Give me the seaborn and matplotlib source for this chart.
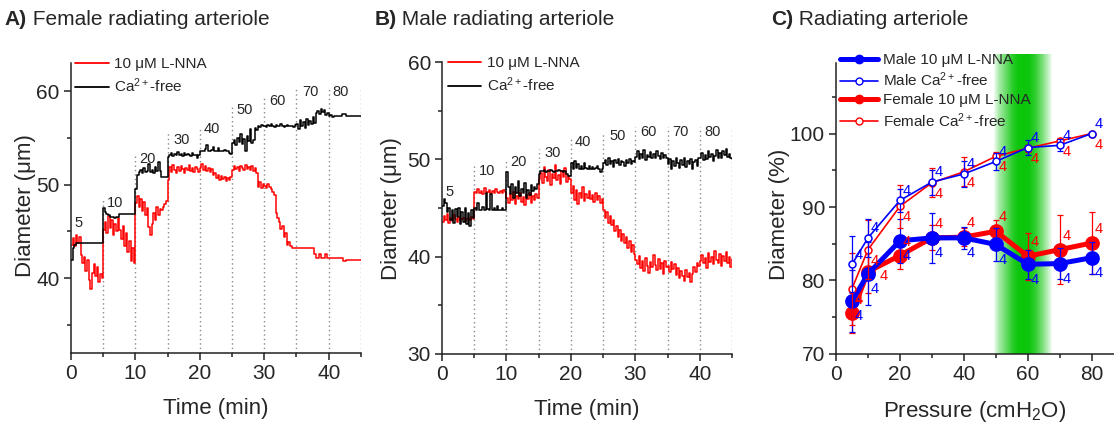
import numpy as np
import matplotlib
matplotlib.use('Agg')
import matplotlib.pyplot as plt
import seaborn as sns
from matplotlib.lines import Line2D
from matplotlib.ticker import MultipleLocator

# ---- panels A/B: diameter traces (um), one value every 0.25 min, 0-45 min ----
step_min = 0.25

female_ca_free = (
    [42.0, 43.2, 43.6, 43.8, 43.8, 43.8, 43.8, 43.8, 43.8, 43.8, 43.8, 43.8, 43.8, 43.8, 43.8, 43.8, 43.8, 43.8, 43.8, 43.8]
    + [47.5, 47.1, 46.9, 46.8, 46.5, 46.5, 46.5, 46.4, 46.5, 46.5, 46.9, 46.9, 46.9, 46.9, 46.9, 46.9, 46.9, 46.9, 46.9, 46.9]
    + [49.5, 51.0, 51.4, 51.6, 51.3, 51.8, 51.4, 51.5, 52.2, 51.4, 51.6, 51.3, 51.9, 51.5, 52.4, 51.5, 50.8, 50.8, 50.8, 50.8]
    + [53.0, 53.2, 53.4, 53.1, 53.3, 53.2, 53.5, 53.2, 53.3, 53.1, 53.4, 53.2, 53.3, 53.2, 53.1, 53.4, 53.2, 53.2, 52.9, 53.2]
    + [53.6, 53.6, 53.6, 53.8, 54.2, 53.6, 53.6, 53.7, 54.0, 53.6, 53.6, 53.9, 53.6, 53.6, 53.6, 53.7, 53.6, 53.6, 53.4, 53.3]
    + [54.5, 54.8, 54.2, 55.0, 54.6, 55.4, 54.4, 54.9, 53.6, 55.2, 54.7, 55.9, 54.5, 54.8, 56.1, 55.8, 56.3, 56.2, 56.4, 56.3]
    + [56.3, 56.2, 56.4, 56.3, 56.5, 56.3, 56.2, 56.4, 56.3, 56.3, 56.5, 56.3, 56.2, 56.3, 56.4, 56.3, 56.3, 56.3, 56.2, 56.4]
    + [56.5, 56.0, 56.9, 56.3, 56.7, 56.1, 57.0, 56.4, 56.8, 56.5, 57.2, 56.6, 57.7, 57.9, 57.6, 58.1, 57.8, 58.0, 57.5, 57.7]
    + [57.3, 57.4, 57.2, 57.3, 57.3, 57.3, 57.3, 57.3, 57.6, 57.6, 57.6, 57.3, 57.3, 57.3, 57.3, 57.3, 57.3, 57.3, 57.3, 57.3, 57.3]
)
female_lnna = (
    [43.6, 44.3, 43.4, 44.6, 43.8, 44.4, 42.5, 41.6, 42.3, 40.8, 41.9, 39.8, 38.9, 40.6, 41.5, 40.2, 41.2, 39.6, 40.5, 40.0]
    + [45.2, 46.0, 44.8, 46.6, 45.4, 46.2, 44.6, 45.8, 45.0, 46.4, 45.2, 44.2, 45.6, 43.4, 44.8, 42.8, 44.0, 41.8, 43.2, 41.6]
    + [48.0, 48.8, 47.6, 48.5, 47.2, 48.1, 46.8, 47.5, 45.5, 44.6, 45.8, 47.0, 46.2, 47.6, 46.8, 47.4, 47.3, 47.6, 47.9, 48.3]
    + [50.5, 51.9, 51.4, 52.1, 51.6, 51.2, 51.9, 51.5, 52.0, 51.7, 51.3, 51.8, 51.6, 52.1, 51.5, 51.8, 51.4, 51.9, 51.7, 51.4]
    + [51.8, 52.2, 51.6, 52.0, 51.5, 51.8, 51.4, 51.7, 51.0, 51.2, 50.7, 51.0, 50.5, 50.9, 50.6, 50.8, 50.4, 50.7, 50.5, 50.8]
    + [51.6, 52.0, 51.7, 51.9, 51.5, 52.0, 51.8, 51.6, 52.1, 51.7, 51.9, 51.6, 52.0, 51.5, 51.8, 51.2, 49.8, 50.3, 49.6, 50.1]
    + [49.9, 49.6, 50.1, 49.7, 49.5, 49.2, 48.9, 47.0, 46.4, 46.0, 45.3, 45.6, 44.4, 44.8, 43.6, 43.9, 43.4, 43.2, 43.2, 43.2]
    + [43.2, 43.2, 43.2, 43.2, 43.2, 43.2, 43.2, 43.2, 43.2, 43.2, 43.2, 42.6, 42.2, 42.2, 42.6, 42.2, 42.2, 42.2, 42.6, 42.2]
    + [42.2, 42.2, 42.2, 42.2, 42.2, 42.2, 42.2, 42.2, 42.2, 41.8, 41.8, 42.0, 42.0, 42.0, 42.0, 42.0, 42.0, 42.0, 42.0, 42.0, 42.0]
)
male_ca_free = (
    [45.2, 45.9, 45.5, 44.6, 45.0, 43.8, 44.8, 43.5, 44.9, 44.1, 45.0, 43.4, 44.6, 43.6, 45.0, 43.4, 44.5, 43.2, 44.8, 44.0]
    + [45.0, 44.8, 45.5, 44.8, 44.8, 45.1, 44.8, 46.6, 44.9, 44.8, 46.4, 44.8, 45.0, 44.8, 45.2, 44.8, 44.8, 45.0, 44.8, 44.8]
    + [48.7, 47.2, 46.4, 47.5, 46.0, 47.2, 46.5, 47.8, 46.2, 47.0, 46.6, 47.6, 46.0, 46.9, 46.3, 47.4, 46.8, 47.2, 47.0, 47.5]
    + [48.5, 48.8, 48.8, 48.9, 48.7, 48.8, 48.8, 48.9, 48.8, 48.7, 48.8, 48.8, 48.9, 48.8, 48.8, 48.7, 48.8, 48.5, 48.3, 48.3]
    + [49.6, 49.0, 49.8, 49.1, 49.5, 49.0, 49.3, 49.0, 49.6, 49.1, 49.0, 49.3, 49.0, 49.2, 49.0, 49.1, 49.3, 49.0, 48.7, 49.0]
    + [49.6, 49.9, 49.4, 50.1, 49.5, 49.8, 49.2, 49.9, 49.6, 50.0, 49.4, 49.8, 49.7, 49.3, 49.9, 49.6, 50.0, 49.5, 49.8, 49.7]
    + [50.3, 50.9, 50.0, 50.6, 50.2, 51.0, 49.9, 50.5, 50.3, 50.8, 50.1, 50.6, 50.2, 50.9, 50.4, 50.0, 50.7, 50.2, 50.5, 50.1]
    + [49.5, 50.0, 49.0, 49.8, 49.3, 50.2, 49.6, 49.1, 49.9, 49.4, 50.1, 49.2, 49.8, 49.5, 50.0, 49.0, 49.7, 49.9, 49.3, 50.1]
    + [50.2, 50.7, 49.9, 50.5, 50.0, 50.9, 50.3, 50.6, 49.8, 50.4, 51.0, 50.2, 50.7, 50.1, 50.9, 50.5, 51.1, 50.3, 50.6, 50.2, 50.0]
)
male_lnna = (
    [43.6, 44.2, 43.8, 44.4, 43.5, 44.0, 43.7, 44.3, 43.9, 43.6, 44.1, 43.8, 43.9, 44.0, 43.7, 43.9, 44.0, 43.8, 44.1, 43.9]
    + [46.7, 46.5, 47.0, 46.6, 46.8, 46.4, 47.1, 46.6, 46.7, 46.9, 46.5, 46.8, 46.6, 47.0, 46.7, 46.5, 46.8, 46.6, 46.9, 46.7]
    + [46.0, 45.5, 46.4, 45.8, 46.7, 45.4, 46.2, 45.9, 46.5, 45.6, 46.1, 45.3, 46.3, 45.9, 46.6, 45.5, 46.2, 45.8, 46.4, 46.0]
    + [48.0, 48.6, 47.6, 49.2, 48.2, 47.8, 48.9, 47.4, 48.5, 48.1, 49.4, 47.9, 48.4, 47.5, 48.8, 48.2, 49.1, 47.7, 48.3, 48.0]
    + [46.5, 47.3, 45.8, 46.9, 45.4, 46.6, 46.0, 47.2, 45.7, 46.4, 46.0, 46.8, 45.9, 46.3, 45.6, 46.5, 45.8, 46.2, 45.5, 45.9]
    + [44.8, 44.0, 44.6, 43.5, 44.2, 43.3, 43.8, 42.6, 43.2, 42.0, 42.7, 41.6, 42.3, 41.4, 42.0, 40.9, 41.6, 40.5, 41.2, 40.3]
    + [39.7, 39.2, 40.1, 38.8, 39.6, 38.5, 39.9, 39.0, 38.3, 39.5, 38.9, 40.2, 39.1, 38.6, 39.8, 38.7, 39.4, 38.2, 39.6, 38.9]
    + [39.0, 38.4, 39.5, 38.7, 39.2, 38.1, 38.8, 37.8, 38.5, 38.0, 37.5, 38.6, 37.9, 38.3, 37.4, 38.2, 38.9, 38.4, 39.3, 39.0]
    + [39.6, 40.2, 39.3, 39.9, 38.8, 40.4, 39.5, 40.0, 39.2, 40.6, 39.7, 39.4, 40.3, 39.0, 40.1, 39.6, 40.5, 39.3, 40.0, 38.9, 39.8]
)

# pressure steps (cmH2O) applied every 5 min
pressure_labels = ['5', '10', '20', '30', '40', '50', '60', '70', '80']
step_times = [5, 10, 15, 20, 25, 30, 35, 40, 45]

# ---- panel C: normalised diameter (%) vs pressure, n = 4 ----
pressure = [5, 10, 20, 30, 40, 50, 60, 70, 80]
male_lnna_pct = [77.2, 80.9, 85.4, 85.8, 85.8, 84.9, 82.2, 82.3, 83.1]
male_lnna_err = [4.2, 4.3, 3.0, 3.4, 1.5, 2.3, 2.0, 2.1, 2.2]
male_ca_pct = [82.2, 85.8, 90.9, 93.4, 94.5, 96.2, 98.1, 98.4, 100.0]
male_ca_err = [3.8, 2.6, 1.6, 1.7, 1.8, 1.2, 1.0, 0.8, 0.0]
female_lnna_pct = [75.6, 81.2, 83.4, 85.8, 85.9, 86.7, 83.3, 84.2, 85.1]
female_lnna_err = [2.7, 2.9, 1.8, 1.7, 1.2, 1.5, 3.2, 4.7, 4.2]
female_ca_pct = [78.9, 84.2, 90.1, 93.3, 94.8, 96.9, 98.0, 99.0, 100.0]
female_ca_err = [4.9, 4.0, 2.9, 2.0, 2.0, 0.6, 0.5, 0.4, 0.0]
n_label = '4'

RED = '#ff0000'
BLUE = '#0000ff'

sns.set_style('ticks')
plt.rcParams['font.family'] = ['Liberation Sans', 'DejaVu Sans']
plt.rcParams['mathtext.fontset'] = 'custom'
plt.rcParams['mathtext.rm'] = 'Liberation Sans'
plt.rcParams['mathtext.it'] = 'Liberation Sans:italic'
plt.rcParams['mathtext.bf'] = 'Liberation Sans:bold'

fig = plt.figure(figsize=(11.14, 4.29), dpi=100)
axA = fig.add_axes([0.0637, 0.177, 0.2603, 0.676])
axB = fig.add_axes([0.3968, 0.175, 0.2603, 0.680])
axC = fig.add_axes([0.7505, 0.175, 0.2495, 0.678])


def style_axis(ax):
    for side in ['top', 'right']:
        ax.spines[side].set_visible(False)
    for side in ['left', 'bottom']:
        ax.spines[side].set_linewidth(1.1)
        ax.spines[side].set_color('#222222')
    ax.tick_params(which='major', direction='out', length=5, width=1.1, labelsize=15, pad=3, color='#222222')
    ax.tick_params(which='minor', direction='out', length=3, width=1.1, color='#222222')


def trace_panel(ax, ca, lnna, ylim, label_t, label_y, line_top, leg_anchor):
    t = np.arange(len(lnna)) * step_min
    for st, top in zip(step_times, line_top):
        ax.plot([st, st], [ylim[0], top], ls=(0, (1, 2.2)), color='#888888', lw=1, zorder=1)
    sns.lineplot(x=t, y=lnna, color=RED, lw=1.1, drawstyle='steps-post', ax=ax, zorder=2)
    sns.lineplot(x=np.arange(len(ca)) * step_min, y=ca, color='black', lw=1.1,
                 drawstyle='steps-post', ax=ax, zorder=3)
    for lab, lt, ly in zip(pressure_labels, label_t, label_y):
        ax.text(lt, ly, lab, fontsize=10.5, ha='center', va='center')
    ax.set_xlim(0, 45)
    ax.set_ylim(*ylim)
    ax.xaxis.set_major_locator(MultipleLocator(10))
    ax.xaxis.set_minor_locator(MultipleLocator(5))
    ax.yaxis.set_major_locator(MultipleLocator(10))
    ax.yaxis.set_minor_locator(MultipleLocator(5))
    ax.set_xlabel('Time (min)', fontsize=16)
    ax.set_ylabel('Diameter (\u03bcm)', fontsize=16)
    ax.xaxis.set_label_coords(0.5, -0.155)
    handles = [Line2D([], [], color=RED, lw=1.3), Line2D([], [], color='black', lw=1.3)]
    ax.legend(handles, ['10 \u03bcM L-NNA', 'Ca$^{2+}$-free'], loc='upper left',
              bbox_to_anchor=leg_anchor, frameon=False, fontsize=11, borderpad=0,
              borderaxespad=0, handlelength=2.2, handletextpad=0.35, labelspacing=0.35)
    style_axis(ax)


trace_panel(axA, female_ca_free, female_lnna, (32, 63),
            [1.1, 6.8, 11.8, 17.2, 21.9, 27.0, 32.0, 37.1, 41.8],
            [45.9, 48.0, 52.7, 54.8, 55.9, 58.0, 58.9, 59.9, 59.9],
            [48.6, 53.4, 55.6, 56.2, 58.3, 59.4, 60.2, 60.2, 60.2], (0.014, 1.02))
axA.yaxis.set_label_coords(-0.12, 0.51)

trace_panel(axB, male_ca_free, male_lnna, (30, 60),
            [1.2, 7.0, 11.8, 17.1, 21.9, 27.2, 32.0, 37.0, 42.0],
            [46.7, 48.8, 49.7, 50.7, 51.8, 52.4, 52.8, 52.8, 52.8],
            [49.3, 50.0, 51.1, 52.1, 52.6, 53.3, 53.3, 53.3, 53.3], (0.02, 1.02))
axB.yaxis.set_label_coords(-0.138, 0.5)

# ---- panel C ----
band_x = np.linspace(49.5, 67.6, 300)
band_alpha = np.interp(band_x, [49.5, 51, 53, 55.5, 57, 60.5, 62.5, 65, 67.6],
                       [0.05, 0.35, 0.6, 0.9, 1.0, 1.0, 0.85, 0.5, 0.05])
band = np.zeros((1, band_x.size, 4))
band[..., 0] = 0.05
band[..., 1] = 0.78
band[..., 2] = 0.05
band[..., 3] = band_alpha
axC.imshow(band, extent=[49.5, 67.6, 70, 110.8], aspect='auto', zorder=0,
           interpolation='bilinear', clip_on=False)

series = [
    (female_lnna_pct, female_lnna_err, RED, 3.6, 'o', 9.5, RED, (5, 10)),
    (male_lnna_pct, male_lnna_err, BLUE, 3.6, 'o', 9.5, BLUE, (5, -11)),
    (female_ca_pct, female_ca_err, RED, 1.2, 'o', 5, 'white', (5, -8)),
    (male_ca_pct, male_ca_err, BLUE, 1.2, 'o', 5, 'white', (5, 7)),
]
for k, (vals, err, col, lw, mk, ms, mfc, off) in enumerate(series):
    axC.errorbar(pressure, vals, yerr=err, fmt='none', ecolor=col, elinewidth=0.9,
                 capsize=2.5, capthick=0.9, zorder=2 + k)
    sns.lineplot(x=pressure, y=vals, color=col, lw=lw, marker=mk, markersize=ms,
                 markerfacecolor=mfc, markeredgecolor=col, markeredgewidth=1.1,
                 ax=axC, zorder=2 + k)
    for p, v in zip(pressure, vals):
        o = off
        if vals is female_lnna_pct and p == 10:
            o = (11, -3)   # crowded spot at 10 cmH2O
        axC.annotate(n_label, (p, v), xytext=o, textcoords='offset points',
                     color=col, fontsize=10.5, ha='center', va='center', zorder=8)

axC.set_xlim(0, 87)
axC.set_ylim(70, 109.6)
axC.xaxis.set_major_locator(MultipleLocator(20))
axC.xaxis.set_minor_locator(MultipleLocator(10))
axC.yaxis.set_major_locator(MultipleLocator(10))
axC.yaxis.set_minor_locator(MultipleLocator(5))
axC.set_xlabel('Pressure (cmH$_2$O)', fontsize=16)
axC.set_ylabel('Diameter (%)', fontsize=16)
axC.xaxis.set_label_coords(0.5, -0.155)
axC.yaxis.set_label_coords(-0.165, 0.48)
style_axis(axC)
c_handles = [
    Line2D([], [], color=BLUE, lw=3.6, marker='o', ms=6),
    Line2D([], [], color=BLUE, lw=1.2, marker='o', ms=5, mfc='white'),
    Line2D([], [], color=RED, lw=3.6, marker='o', ms=6),
    Line2D([], [], color=RED, lw=1.2, marker='o', ms=5, mfc='white'),
]
axC.legend(c_handles, ['Male 10 \u03bcM L-NNA', 'Male Ca$^{2+}$-free',
                       'Female 10 \u03bcM L-NNA', 'Female Ca$^{2+}$-free'],
           loc='upper left', bbox_to_anchor=(0.014, 1.035), frameon=False, fontsize=11,
           borderpad=0, borderaxespad=0, handlelength=2.5, handletextpad=0.3,
           labelspacing=0.25)

# ---- panel titles: bold letter followed by plain text ----
for x, letter, rest in [(0.004, 'A)', ' Female radiating arteriole'),
                        (0.336, 'B)', ' Male radiating arteriole'),
                        (0.692, 'C)', ' Radiating arteriole')]:
    t1 = fig.text(x, 0.955, letter, fontsize=15, fontweight='bold', va='center')
    axA.annotate(rest, xy=(1, 0.5), xycoords=t1, va='center', ha='left',
                 fontsize=15, annotation_clip=False)

fig.savefig('out.png', dpi=100)
